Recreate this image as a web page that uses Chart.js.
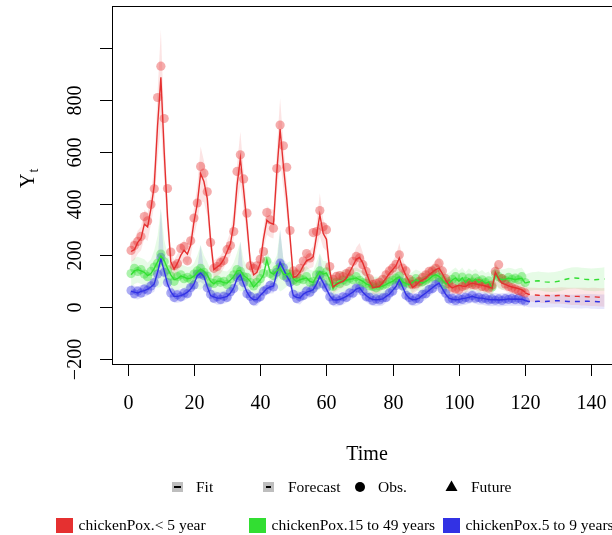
<!DOCTYPE html>
<html><head><meta charset="utf-8">
<script src="https://cdn.jsdelivr.net/npm/chart.js@4/dist/chart.umd.min.js"></script>
<style>html,body{margin:0;padding:0;overflow:hidden;background:#fff}#wrap{width:640px;height:535px}</style>
</head><body><div id="wrap"><canvas id="c" width="640" height="535"></canvas></div>
<script>
// ---------- data ----------
const T0 = 1;      // first observed time
const FC0 = 120;   // first forecast time
const xTicks = [0,20,40,60,80,100,120,140];
const yTicks = [-200,0,200,400,600,800,1000];
const yTickLabels = ['\u2212200','0','200','400','600','800',''];
const seriesNames = ['chickenPox.< 5 year','chickenPox.15 to 49 years','chickenPox.5 to 9 years'];

const redObs = [219,238,254,273,350,333,396,457,809,930,
728,458,213,160,168,227,234,179,256,344,
402,543,517,445,250,150,157,172,180,222,
238,292,524,588,495,363,160,150,160,185,
215,365,337,305,535,703,623,540,296,140,
128,150,178,207,190,288,292,373,310,299,
157,108,119,122,118,130,138,177,196,190,
164,138,110,88,92,96,108,125,140,151,
165,202,151,140,108,87,90,100,115,125,
138,140,150,170,140,110,90,76,70,67,
80,85,92,88,86,92,80,78,74,85,
138,164,110,90,80,75,70,64,60,55];
const redFit = [215,222,250,265,320,310,380,470,700,887,
600,350,175,147,170,200,220,205,240,330,
400,515,485,420,260,145,155,165,185,215,
245,320,470,575,450,320,175,125,135,170,
265,335,325,320,520,687,545,420,270,115,
120,135,160,180,185,195,275,357,285,262,
140,78,88,95,100,112,135,160,185,192,
170,135,100,76,78,80,95,112,130,145,
160,190,150,122,100,76,85,98,105,112,
125,135,145,151,130,105,85,74,80,85,
82,80,88,93,90,87,85,82,78,74,
135,110,93,88,82,78,75,72,67,58];
const redBand = [40,40,45,45,55,55,60,75,130,183,
110,65,40,35,35,40,40,40,45,55,
70,105,80,65,45,35,35,35,35,40,
45,55,80,103,75,55,35,30,30,35,
40,55,55,55,85,119,90,65,45,30,
30,30,35,35,35,40,50,83,55,45,
30,25,25,25,25,25,30,35,45,56,
40,30,25,25,25,25,25,30,30,35,
40,58,40,30,25,25,25,25,25,25,
30,30,35,45,35,25,25,25,25,25,
25,25,25,25,25,25,25,25,25,25,
40,35,25,25,25,25,25,25,25,25];

const greenObs = [130,150,138,145,128,118,138,155,170,205,
175,145,120,100,118,125,110,115,108,128,
140,150,135,120,95,92,105,96,100,88,
110,125,145,138,118,115,95,82,96,110,
130,178,130,122,145,155,122,130,128,105,
100,110,106,118,96,100,125,140,122,136,
100,80,96,92,105,100,112,106,118,104,
95,92,82,80,75,82,85,90,98,105,
112,120,95,96,90,100,110,96,98,104,
112,118,130,115,108,88,98,108,118,96,
116,100,112,96,112,100,106,95,102,78,
128,118,110,104,115,108,112,106,118,95];
const greenFit = [125,140,145,140,135,122,130,150,175,198,
180,150,125,106,110,120,116,110,112,120,
135,147,140,125,100,90,100,100,95,93,
105,118,140,142,122,113,100,78,92,105,
125,183,135,128,140,151,128,125,132,110,
99,106,110,113,100,96,119,138,128,132,
105,72,93,97,100,104,108,110,113,106,
100,90,85,78,78,78,82,87,95,100,
110,116,98,92,87,96,106,100,93,100,
108,120,125,119,105,91,93,105,113,100,
113,95,110,100,108,96,104,92,98,74,
125,112,106,108,112,110,106,110,112,93];
const greenBand = [50,50,50,50,50,50,55,70,100,120,
80,55,45,45,45,45,45,45,45,50,
65,80,60,50,45,45,45,45,45,45,
45,55,70,80,60,45,45,45,45,45,
45,45,45,45,60,90,60,45,45,45,
45,45,45,45,45,45,55,70,50,45,
40,40,40,40,40,40,40,40,40,40,
40,40,40,40,40,40,40,40,40,40,
40,40,40,40,40,40,40,40,40,40,
40,40,40,40,40,40,40,40,40,40,
40,40,40,40,40,40,40,40,40,40,
40,40,40,40,40,40,40,40,40,40];

const blueObs = [65,52,62,55,70,66,82,95,128,192,
135,95,55,38,48,40,55,52,76,86,
128,128,122,75,50,35,40,30,42,38,
60,72,115,120,95,52,42,25,35,40,
62,68,84,78,135,170,152,115,96,50,
34,40,45,62,58,72,86,124,90,75,
40,25,32,26,40,38,55,54,74,72,
62,40,38,26,32,28,36,38,55,62,
84,102,82,46,38,26,34,32,50,52,
68,72,88,96,68,54,32,34,26,33,
30,38,35,45,35,38,32,35,28,32,
27,32,26,33,30,34,29,35,28,24];
const blueFit = [61,58,55,61,64,70,78,90,135,187,
140,90,60,42,42,45,50,58,70,90,
122,132,118,80,45,40,35,35,38,42,
55,75,110,125,90,58,38,29,30,45,
58,72,78,82,130,174,148,120,100,45,
38,36,50,58,62,68,90,119,95,70,
45,29,28,30,35,42,50,58,70,75,
58,45,35,30,29,30,32,42,50,65,
80,106,78,50,35,29,30,35,46,55,
65,75,85,93,72,50,35,31,29,30,
33,35,38,42,38,35,35,32,30,29,
30,28,29,30,32,31,32,31,31,26];
const blueBand = [25,25,25,25,25,25,25,30,35,45,
35,28,25,25,25,25,25,25,25,28,
30,35,30,25,25,25,25,25,25,25,
25,28,30,35,30,25,25,25,25,25,
25,25,25,28,32,40,35,28,25,25,
25,25,25,25,25,25,28,32,28,25,
25,25,25,25,25,25,25,25,25,25,
25,25,25,25,25,25,25,25,25,25,
25,25,25,25,25,25,25,25,25,25,
25,25,25,25,25,25,25,25,25,25,
25,25,25,25,25,25,25,25,25,25,
25,25,25,25,25,25,25,25,25,25];

// tall narrow spikes of the fit bands (15-49 and 5-9 years)
const peakTimes = [10,22,34,46,58];
const peakTops  = [382,240,254,299,205];

// forecasts, t = 120..144
const redFc   = [55,50,48,47,46,45,45,45,44,44,45,45,44,43,42,42,42,41,41,40,40,40,39,38,38];
const greenFc = [93,97,100,101,102,100,98,97,97,98,100,103,107,110,112,113,112,110,108,107,106,106,107,108,109];
const blueFc  = [26,22,22,22,23,22,22,23,24,25,25,24,23,22,22,22,22,22,23,23,22,22,21,21,21];
const redFcBand   = [25,26,27,28,28,29,29,30,30,31,31,32,32,32,33,33,33,34,34,34,35,35,35,35,36];
const greenFcBand = [33,34,35,35,36,36,37,37,38,38,39,39,40,40,41,41,42,42,43,43,43,44,44,44,45];
const blueFcBand  = [22,22,23,23,23,24,24,24,25,25,25,25,26,26,26,26,27,27,27,27,28,28,28,28,28];

// ---------- build ----------
const RED = [229,48,48], GREEN = [50,222,50], BLUE = [50,50,228];
const rgba = (c,a) => `rgba(${c[0]},${c[1]},${c[2]},${a})`;
const pts = (arr,t0) => arr.map((v,i)=>({x:t0+i,y:v}));
const lo = (fit,hw,t0) => fit.map((v,i)=>({x:t0+i,y:v-hw[i]}));
const hi = (fit,hw,t0,spikes) => fit.map((v,i)=>{
  let y = v+hw[i];
  if (spikes){ const k = peakTimes.indexOf(t0+i); if (k>=0) y = Math.max(y, peakTops[k]); }
  return {x:t0+i,y};
});

const datasets = [];
function addBand(fit,hw,t0,col,alpha,spikes){
  datasets.push({data:lo(fit,hw,t0),borderWidth:0,borderColor:'rgba(0,0,0,0)',pointRadius:0,fill:false,order:3});
  datasets.push({data:hi(fit,hw,t0,spikes),borderWidth:0,borderColor:'rgba(0,0,0,0)',pointRadius:0,fill:'-1',backgroundColor:rgba(col,alpha),order:3});
}
addBand(redFit,redBand,T0,RED,0.13,false);
addBand(greenFit,greenBand,T0,GREEN,0.12,true);
addBand(blueFit,blueBand,T0,BLUE,0.15,true);
addBand(redFc,redFcBand,FC0,RED,0.12,false);
addBand(greenFc,greenFcBand,FC0,GREEN,0.12,false);
addBand(blueFc,blueFcBand,FC0,BLUE,0.12,false);

function addObs(obs,col){
  datasets.push({data:pts(obs,T0),showLine:false,pointRadius:4.6,pointBackgroundColor:rgba(col,0.4),pointBorderWidth:0,pointBorderColor:'rgba(0,0,0,0)',order:2});
}
addObs(redObs,RED); addObs(greenObs,GREEN); addObs(blueObs,BLUE);

function addLine(vals,t0,col,dash){
  datasets.push({data:pts(vals,t0),borderColor:rgba(col,1),borderWidth:1.4,pointRadius:0,fill:false,borderDash:dash||[],order:1});
}
addLine(redFit,T0,RED); addLine(greenFit,T0,GREEN); addLine(blueFit,T0,BLUE);
addLine(redFc,FC0,RED,[5,5]); addLine(greenFc,FC0,GREEN,[5,5]); addLine(blueFc,FC0,BLUE,[5,5]);

const SERIF = '"Liberation Serif","DejaVu Serif",serif';

const axesPlugin = {
  id:'rAxes',
  afterDraw(chart){
    const ctx = chart.ctx, a = chart.chartArea, xs = chart.scales.x, ys = chart.scales.y;
    ctx.save();
    ctx.strokeStyle = '#000'; ctx.fillStyle = '#000'; ctx.lineWidth = 1;
    ctx.strokeRect(a.left+0.5, a.top+0.5, a.right-a.left, a.bottom-a.top);
    ctx.font = '20px ' + SERIF;
    // y axis
    yTicks.forEach((v,i)=>{
      const y = Math.round(ys.getPixelForValue(v))+0.5;
      ctx.beginPath(); ctx.moveTo(a.left-12,y); ctx.lineTo(a.left,y); ctx.stroke();
      if (yTickLabels[i]){
        ctx.save(); ctx.translate(81,y); ctx.rotate(-Math.PI/2);
        ctx.textAlign='center'; ctx.textBaseline='alphabetic';
        ctx.fillText(yTickLabels[i],0,0); ctx.restore();
      }
    });
    // x axis
    xTicks.forEach(v=>{
      const x = Math.round(xs.getPixelForValue(v))+0.5;
      ctx.beginPath(); ctx.moveTo(x,a.bottom); ctx.lineTo(x,a.bottom+12); ctx.stroke();
      ctx.textAlign='center'; ctx.textBaseline='alphabetic';
      ctx.fillText(String(v),x,409);
    });
    // titles
    ctx.textAlign='center';
    ctx.fillText('Time', 367, 460);
    ctx.save(); ctx.translate(34,188); ctx.rotate(-Math.PI/2);
    ctx.textAlign='left'; ctx.fillText('Y',0,0);
    const wY = ctx.measureText('Y').width;
    ctx.font = '14px ' + SERIF; ctx.fillText('t',wY+1,4);
    ctx.restore();

    // legend row 1
    ctx.font = '15.5px ' + SERIF; ctx.textAlign='left';
    ctx.fillStyle='#bebebe'; ctx.fillRect(172,482,11,10); ctx.fillRect(263,482,11,10);
    ctx.strokeStyle='#000'; ctx.lineWidth=2;
    ctx.beginPath(); ctx.moveTo(174,487); ctx.lineTo(181,487); ctx.stroke();
    ctx.beginPath(); ctx.moveTo(266,487); ctx.lineTo(271,487); ctx.stroke();
    ctx.fillStyle='#000';
    ctx.fillText('Fit',196,492);
    ctx.fillText('Forecast',288,492);
    ctx.beginPath(); ctx.arc(360,487,5,0,Math.PI*2); ctx.fill();
    ctx.fillText('Obs.',378,492);
    ctx.beginPath(); ctx.moveTo(451.5,480.5); ctx.lineTo(457.5,491); ctx.lineTo(445.5,491); ctx.closePath(); ctx.fill();
    ctx.fillText('Future',471,492);
    // legend row 2
    const sq = [[56,RED],[249,GREEN],[443,BLUE]];
    sq.forEach((s,i)=>{
      ctx.fillStyle = rgba(s[1],1); ctx.fillRect(s[0],518,17,15);
      ctx.fillStyle = '#000'; ctx.fillText(seriesNames[i], s[0]+22.5, 529.5);
    });
    ctx.restore();
  }
};

new Chart(document.getElementById('c'), {
  type:'line',
  data:{datasets},
  options:{
    responsive:false, animation:false, devicePixelRatio:1, events:[],
    layout:{padding:{left:112,top:6,right:13,bottom:171}},
    elements:{line:{tension:0}},
    scales:{
      x:{type:'linear',min:-4.76,max:150.76,display:false},
      y:{type:'linear',min:-219,max:1162,display:false}
    },
    plugins:{legend:{display:false},tooltip:{enabled:false}}
  },
  plugins:[axesPlugin]
});
</script>
</body></html>
